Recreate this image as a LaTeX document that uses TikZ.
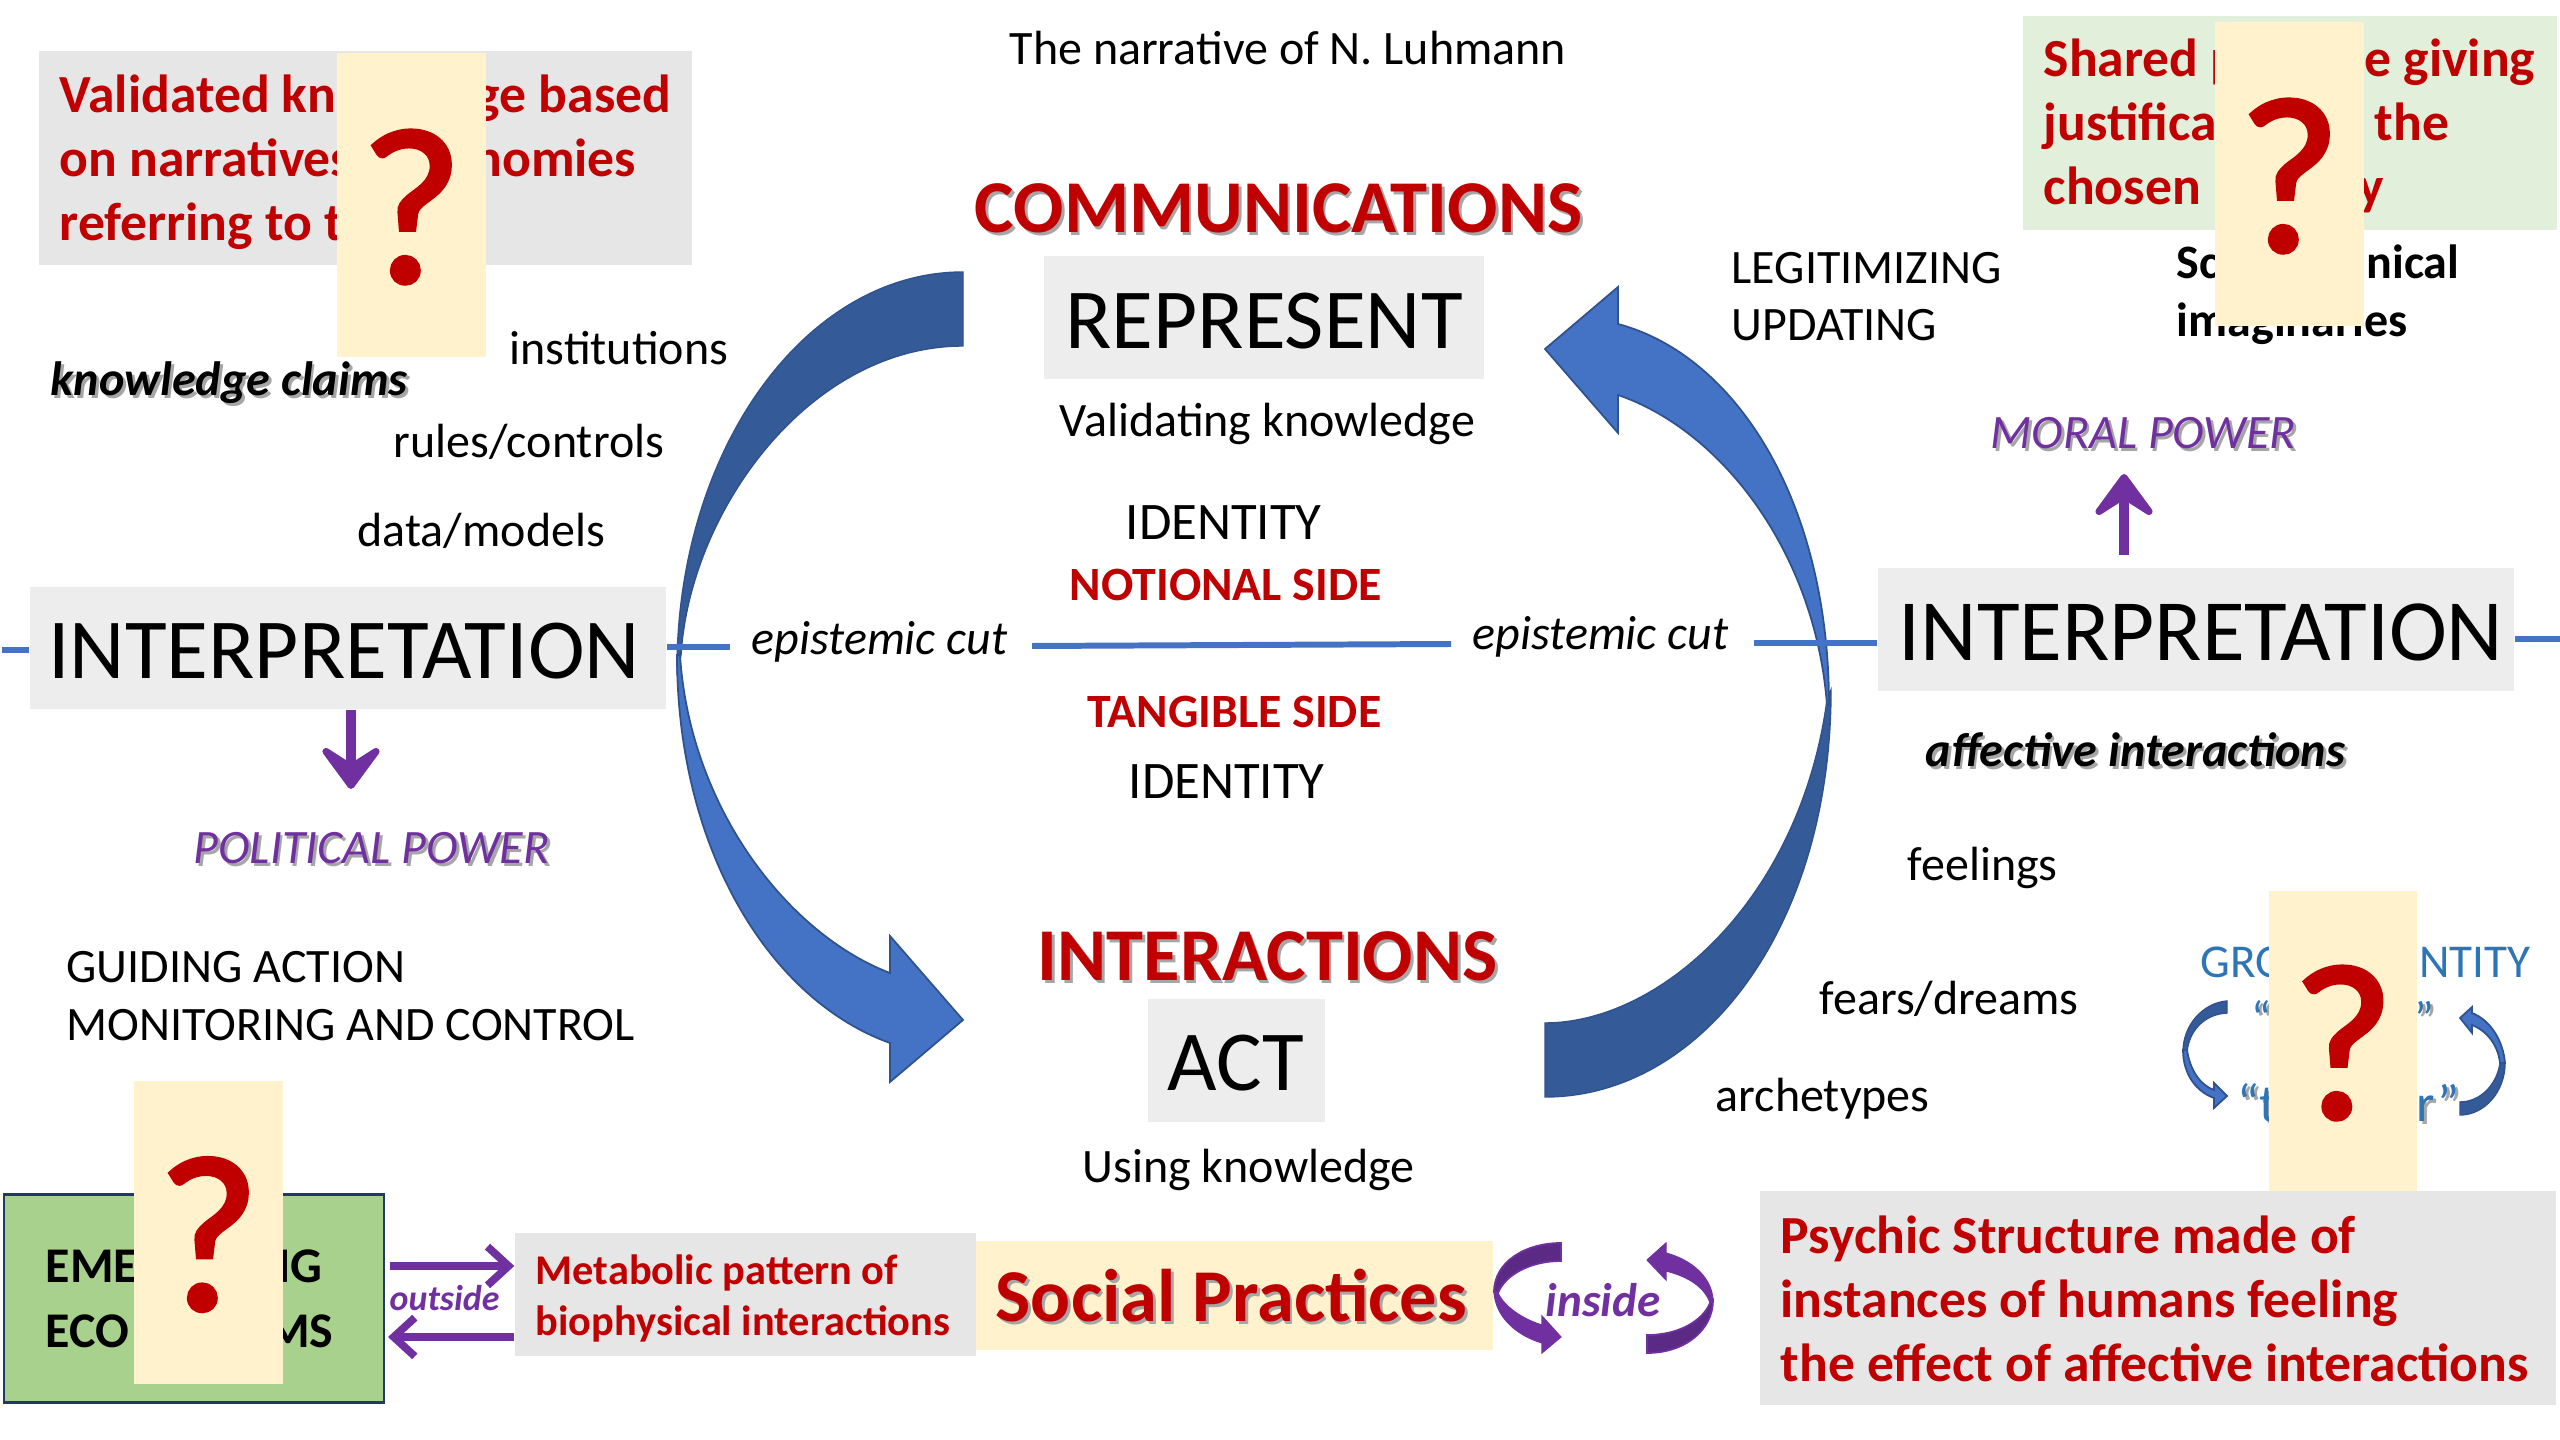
\documentclass[tikz,border=0pt]{standalone}
\usepackage{fontspec}
\setmainfont{Carlito}
\newfontfamily\qmarkfont[FakeBold=2]{Carlito}
\usetikzlibrary{arrows.meta}
\definecolor{redtxt}{HTML}{C00000}
\definecolor{purp}{HTML}{7030A0}
\definecolor{purpdark}{HTML}{5B2A84}
\definecolor{bluelight}{HTML}{4472C4}
\definecolor{bluedark}{HTML}{355A98}
\definecolor{blueedge}{HTML}{2F528F}
\definecolor{groupblue}{HTML}{2E75B6}
\definecolor{greybox}{HTML}{E6E6E6}
\definecolor{paleboxc}{HTML}{EDEDED}
\definecolor{cream}{HTML}{FFF2CC}
\definecolor{greenbox}{HTML}{A9D18E}
\definecolor{palegreen}{HTML}{E2EFDA}
\newcommand{\fsz}[1]{\fontsize{#1}{#1}\selectfont}
\newcommand{\shad}[1]{\makebox[0pt][l]{\kern0.8pt\raisebox{-0.8pt}{\textcolor{black!35}{#1}}}#1}
\tikzset{
	boxsz/.style 2 args={minimum width=#1*0.01cm,minimum height=#2*0.01cm,inner sep=0pt},
	lab/.style={anchor=base west,inner sep=0pt,yshift=-0.8pt,font=\fsz{13.65}},
	labR/.style={lab,anchor=base east},
	redlab/.style={lab,text=redtxt,font=\bfseries\fsz{15.25}},
	redlabR/.style={redlab,anchor=base east},
	blacklab/.style={lab,font=\bfseries\fsz{14.2}},
	blacklabR/.style={blacklab,anchor=base east},
	head/.style={lab,text=redtxt,font=\bfseries\fsz{21.2}},
	side/.style={lab,text=redtxt,font=\bfseries\fsz{13.6}},
	power/.style={lab,text=purp,font=\itshape\fsz{13.65}},
	claim/.style={lab,font=\bfseries\itshape\fsz{13.7}},
	ident/.style={lab,font=\fsz{15}},
	grp/.style={lab,text=groupblue,font=\fsz{13.4}},
	grpR/.style={grp,anchor=base east},
	bigbox/.style={fill=paleboxc,text height=17.4pt,text depth=0pt,font=\fsz{24.3}},
	qbox/.style={boxsz={149}{304},fill=cream,text=redtxt,text height=43.8pt,text depth=0pt,font=\qmarkfont\fsz{63}},
	cutline/.style={draw=bluelight,line width=1.7pt},
	powarrow/.style={draw=purp,line width=3pt,-{Stealth[round,length=15pt,width=22pt,inset=7pt]}},
	barbarrow/.style={draw=purp,line width=2.2pt,-{Straight Barb[length=6pt,width=11pt]}},
	arcdark/.style={fill=bluedark,draw=blueedge,line width=0.4pt},
	arclight/.style={fill=bluelight,draw=blueedge,line width=0.5pt},
	arcpurp/.style={fill=purp,draw=purp,line width=0.3pt},
	arcpurpdark/.style={fill=purpdark,draw=purp,line width=0.5pt},
}
\begin{document}
\begin{tikzpicture}[x=0.01cm,y=-0.01cm]
	\useasboundingbox (0,0) rectangle (2560,1440);
	% big curved arrows
	\path[arcdark] (963,272) .. controls (805,272) and (677,450) .. (677,670) -- (681,655) .. controls (690,510) and (810,346) .. (963,346) -- cycle;
	\path[arclight] (677,655) .. controls (677,850) and (770,1000) .. (890,1043) -- (890,1082) -- (963,1020) -- (890,936) -- (890,973) .. controls (790,935) and (690,810) .. (680,655) -- cycle;
	\path[arcdark] (1545,1097) .. controls (1700,1097) and (1831,930) .. (1831,690) -- (1827,700) .. controls (1800,900) and (1660,1023) .. (1545,1023) -- cycle;
	\path[arclight] (1545,349) -- (1618,287) -- (1618,324) .. controls (1735,355) and (1829,500) .. (1829,705) -- (1827,705) .. controls (1815,550) and (1720,430) .. (1618,395) -- (1618,433) -- cycle;
	% boxes with a word
	\node[bigbox,boxsz={440}{123}] (rep) at (1264,318) {REPRESENT};
	\node[bigbox,boxsz={177}{123}] (act) at (1236,1060) {ACT};
	\node[bigbox,boxsz={636}{122}] (intL) at (348,648) {INTERPRETATION\kern2.2pt};
	\node[bigbox,boxsz={636}{123},font=\fsz{24.85}] (intR) at (2196,630) {\kern2.8pt INTERPRETATION};
	% epistemic cut
	\coordinate (lnA) at (2,650);
	\coordinate (lnB) at (730,647);
	\coordinate (lnC) at (1032,646);
	\coordinate (lnD) at (1451,644);
	\coordinate (lnE) at (1754,643);
	\coordinate (lnF) at (2560,639);
	\draw[cutline] (lnA) -- (intL.west |- lnA);
	\draw[cutline] (intL.east |- lnB) -- (lnB);
	\draw[cutline] (lnC) -- (lnD);
	\draw[cutline] (lnE) -- (intR.west |- lnE);
	\draw[cutline] (intR.east |- lnF) -- (lnF);
	% plain labels
	\foreach \name/\x/\y/\txt in {title/1009/62/The narrative of N. Luhmann,valid/1059/434/Validating knowledge,using/1082/1180/Using knowledge,inst/509/362/institutions,rules/393/455/{rules/controls},data/357/544/{data/models},guide/66/980/GUIDING ACTION,monit/66/1038/MONITORING AND CONTROL,legit/1731/281/LEGITIMIZING,updat/1731/338/UPDATING,feel/1907/878/feelings,fears/1819/1012/{fears/dreams},arche/1715/1109/archetypes}
		\node[lab] (\name) at (\x,\y) {\txt};
	\node[lab,font=\itshape\fsz{13.65}] (cutL) at (751,652) {epistemic cut};
	\node[lab,font=\itshape\fsz{13.65}] (cutR) at (1472,647) {epistemic cut};
	\node[ident] (idT) at (1125,537) {IDENTITY};
	\node[ident] (idB) at (1128,796) {IDENTITY};
	\node[side] (notion) at (1069,598) {NOTIONAL SIDE};
	\node[side] (tangi) at (1087,725) {TANGIBLE SIDE};
	\node[head] (comm) at (974,230) {\shad{COMMUNICATIONS}};
	\node[head] (inter) at (1037,978) {\shad{INTERACTIONS}};
	\node[claim] (know) at (50,393) {\shad{knowledge claims}};
	\node[claim] (affect) at (1925,764) {\shad{affective interactions}};
	\node[power] (polit) at (193,861) {\shad{POLITICAL POWER}};
	\node[power] (moral) at (1990,446) {\shad{MORAL POWER}};
	% power arrows
	\coordinate (dnEnd) at (351,789);
	\coordinate (upBeg) at (2124,555);
	\coordinate (upEnd) at (2124,474);
	\draw[powarrow] (intL.south -| dnEnd) -- (dnEnd);
	\draw[powarrow] (upBeg) -- (upEnd);
	% top left box
	\node[boxsz={653}{214},fill=greybox] (valbox) at (365.5,158) {};
	\node[redlab] (val1) at (59,110) {Validated kn};
	\node[redlabR] (val2) at (672,110) {ge based};
	\node[redlab] (val3) at (59,174) {on narratives};
	\node[redlabR] (val4) at (637,174) {nomies};
	\node[redlab] (val5) at (59,238) {referring to t};
	\node[qbox] (q1) at (411.5,205) {?};
	% top right box
	\node[boxsz={534}{214},fill=palegreen] (shbox) at (2290,123) {};
	\node[redlab] (sh1) at (2043,74) {Shared p};
	\node[redlabR] (sh2) at (2536,74) {e giving};
	\node[redlab] (sh3) at (2043,138) {justifica};
	\node[redlabR] (sh4) at (2450,138) {the};
	\node[redlab] (sh5) at (2043,202) {chosen i};
	\node[redlabR] (sh6) at (2385,202) {y};
	\node[lab,font=\bfseries\fsz{13.65}] (soc1) at (2176,276) {Sc};
	\node[labR,font=\bfseries\fsz{13.65}] (soc2) at (2460,276) {nical};
	\node[lab,font=\bfseries\fsz{13.65}] (soc3) at (2176,334) {imaginaries};
	\node[qbox] (q2) at (2289.5,174) {?};
	% group identity
	\node[grp] (grp1) at (2200,975) {GRO};
	\node[grpR] (grp2) at (2531,975) {NTITY};
	\node[grp] (grp3) at (2251,1032) {\shad{“}};
	\node[grpR] (grp4) at (2435,1032) {\shad{”}};
	\node[grp,font=\fsz{15}] (grp5) at (2237,1119) {\shad{“t}};
	\node[grpR,font=\fsz{15}] (grp6) at (2460,1119) {\shad{r”}};
	\path[arcdark] (2227,1001) .. controls (2203,1003) and (2183,1025) .. (2183,1052) -- (2187,1052) .. controls (2189,1030) and (2205,1014) .. (2227,1013) -- cycle;
	\path[arclight] (2183,1050) .. controls (2183,1075) and (2197,1092) .. (2214,1098) -- (2214,1108) -- (2227,1096) -- (2214,1083) -- (2214,1090) .. controls (2200,1085) and (2190,1070) .. (2187,1050) -- cycle;
	\path[arclight] (2460,1018) -- (2472,1007) -- (2472,1013) .. controls (2490,1020) and (2503,1040) .. (2505,1063) -- (2500,1063) .. controls (2498,1045) and (2487,1031) .. (2472,1025) -- (2472,1033) -- cycle;
	\path[arcdark] (2460,1102) .. controls (2480,1102) and (2497,1085) .. (2500,1063) -- (2505,1063) .. controls (2505,1092) and (2484,1115) .. (2460,1115) -- cycle;
	\node[qbox,boxsz={148}{299}] (q3) at (2343,1041) {?};
	% bottom row
	\node[boxsz={380}{208},fill=greenbox,draw=blueedge!70!black,line width=0.8pt] (eco) at (194,1298.5) {};
	\node[blacklab] (eco1) at (45,1280) {EME};
	\node[blacklabR] (eco2) at (323,1280) {NG};
	\node[blacklab] (eco3) at (45,1345) {ECO};
	\node[blacklabR] (eco4) at (334,1345) {MS};
	\node[qbox,boxsz={149}{303}] (q4) at (208.5,1232.5) {?};
	\node[boxsz={461}{123},fill=greybox] (meta) at (745.5,1294.5) {};
	\node[lab,text=redtxt,font=\bfseries\fsz{12.05}] (meta1) at (535,1282) {Metabolic pattern of};
	\node[lab,text=redtxt,font=\bfseries\fsz{12.05}] (meta2) at (535,1333) {biophysical interactions};
	\coordinate (outA) at (390,1266);
	\coordinate (outB) at (388,1337);
	\draw[barbarrow] (outA) -- (outA -| meta.west);
	\draw[barbarrow] (meta.west |- outB) -- (outB);
	\node[lab,text=purp,font=\bfseries\itshape\fsz{10.2}] (outs) at (389,1308) {outside};
	\node[boxsz={517}{109},fill=cream] (socbox) at (1234.5,1295.5) {};
	\node[head] (socpr) at (995,1319) {\shad{Social Practices}};
	\path[arcpurpdark] (1561,1243) .. controls (1525,1243) and (1494,1262) .. (1494,1292) -- (1498,1293) .. controls (1505,1275) and (1530,1261) .. (1561,1261) -- cycle;
	\path[arcpurp] (1494,1290) .. controls (1494,1315) and (1515,1335) .. (1542,1343) -- (1542,1353) -- (1561,1337) -- (1542,1316) -- (1542,1325) .. controls (1525,1320) and (1505,1308) .. (1498,1293) -- cycle;
	\path[arcpurp] (1647,1260) -- (1666,1243) -- (1666,1253) .. controls (1692,1260) and (1713,1278) .. (1713,1302) -- (1710,1303) .. controls (1705,1288) and (1690,1277) .. (1666,1271) -- (1666,1280) -- cycle;
	\path[arcpurpdark] (1647,1335) .. controls (1680,1335) and (1703,1320) .. (1710,1303) -- (1713,1300) .. controls (1713,1330) and (1685,1353) .. (1647,1353) -- cycle;
	\node[lab,text=purp,font=\bfseries\itshape\fsz{13.4}] (insi) at (1545,1314) {inside};
	\node[boxsz={796}{214},fill=greybox] (psy) at (2158,1298) {};
	\node[redlab] (psy1) at (1780,1251) {Psychic Structure made of};
	\node[redlab] (psy2) at (1780,1315) {instances of humans feeling};
	\node[redlab] (psy3) at (1780,1379) {the effect of affective interactions};
\end{tikzpicture}
\end{document}
